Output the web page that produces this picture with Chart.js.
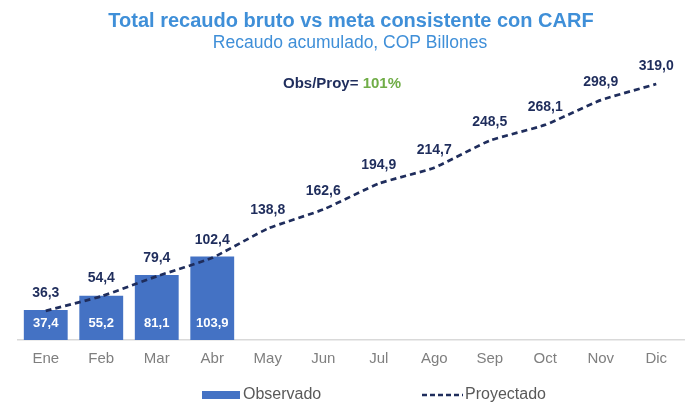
<!DOCTYPE html>
<html>
<head>
<meta charset="utf-8">
<script src="https://cdn.jsdelivr.net/npm/chart.js@4.4.0/dist/chart.umd.min.js"></script>
<style>
  html, body { margin: 0; padding: 0; background: #fff; }
  #wrap { width: 700px; height: 404px; }
</style>
</head>
<body>
<div id="wrap"><canvas id="myChart" width="700" height="404"></canvas></div>
<script>
var meses = ['Ene', 'Feb', 'Mar', 'Abr', 'May', 'Jun', 'Jul', 'Ago', 'Sep', 'Oct', 'Nov', 'Dic']
var observado = [37.4, 55.2, 81.1, 103.9, null, null, null, null, null, null, null, null]
var proyectado = [36.3, 54.4, 79.4, 102.4, 138.8, 162.6, 194.9, 214.7, 248.5, 268.1, 298.9, 319.0]
var ratioTxt = '101%'

var azulBarra = '#4472c4'
var navy = '#1f2d5c'
var azulTitulo = '#3f8fd8'
var fuente = '"Liberation Sans", Arial, sans-serif'

function fmt(v) {
    return v.toFixed(1).replace('.', ',')
}

// titulos, etiquetas y leyenda
var extras = {
    id: 'extras',
    afterDraw: function (chart) {
        var ctx = chart.ctx
        ctx.save()
        ctx.textAlign = 'center'
        ctx.textBaseline = 'middle'
        ctx.fillStyle = azulTitulo
        ctx.font = 'bold 20px ' + fuente
        ctx.fillText('Total recaudo bruto vs meta consistente con CARF', 351, 21)
        ctx.font = '17.5px ' + fuente
        ctx.fillText('Recaudo acumulado, COP Billones', 350, 43)

        // Obs/Proy
        ctx.font = 'bold 15px ' + fuente
        var a = 'Obs/Proy= '
        var wa = ctx.measureText(a).width
        var wb = ctx.measureText(ratioTxt).width
        var x0 = 342 - (wa + wb) / 2
        ctx.textAlign = 'left'
        ctx.fillStyle = navy
        ctx.fillText(a, x0, 84)
        ctx.fillStyle = '#70ad47'
        ctx.fillText(ratioTxt, x0 + wa, 84)

        // etiquetas barras
        ctx.textAlign = 'center'
        ctx.font = 'bold 13px ' + fuente
        var mBar = chart.getDatasetMeta(0)
        mBar.data.forEach(function (el, i) {
            if (observado[i] == null) return
            ctx.fillStyle = '#ffffff'
            ctx.fillText(fmt(observado[i]), el.x, el.base - 17)
        })
        var mLin = chart.getDatasetMeta(1)
        ctx.font = 'bold 14px ' + fuente
        ctx.fillStyle = navy
        mLin.data.forEach(function (el, i) {
            ctx.fillText(fmt(proyectado[i]), el.x, el.y - 18)
        })

        // leyenda
        var ly = 395
        ctx.fillStyle = azulBarra
        ctx.fillRect(202, ly - 4, 38, 8)
        ctx.font = '16px ' + fuente
        ctx.fillStyle = '#595959'
        ctx.textAlign = 'left'
        ctx.fillText('Observado', 243, ly)
        ctx.strokeStyle = navy
        ctx.lineWidth = 2.5
        ctx.setLineDash([5, 3])
        ctx.beginPath()
        ctx.moveTo(422, ly)
        ctx.lineTo(463, ly)
        ctx.stroke()
        ctx.setLineDash([])
        ctx.fillText('Proyectado', 465, ly)
        ctx.restore()
    }
}

var ctx = document.getElementById('myChart').getContext('2d')
var myChart = new Chart(ctx, {
    type: 'bar',
    data: {
        labels: meses,
        datasets: [{
                label: 'Observado',
                data: observado,
                backgroundColor: azulBarra,
                categoryPercentage: 0.79,
                barPercentage: 1.0,
                order: 2
            }, {
                type: 'line',
                label: 'Proyectado',
                data: proyectado,
                borderColor: navy,
                borderWidth: 2.7,
                borderDash: [6, 4],
                pointRadius: 0,
                tension: 0.15,
                fill: false,
                order: 1
            }]
    },
    options: {
        responsive: false,
        animation: false,
        layout: {
            padding: {top: 19, left: 18, right: 16, bottom: 26}
        },
        plugins: {
            legend: {display: false},
            tooltip: {enabled: false}
        },
        scales: {
            x: {
                grid: {display: false, drawTicks: false},
                border: {display: true, color: '#d9d9d9', width: 1.5},
                ticks: {color: '#7f7f7f', font: {family: fuente, size: 15}, padding: 10}
            },
            y: {
                display: false,
                min: 0,
                max: 400
            }
        }
    },
    plugins: [extras]
})
</script>
</body>
</html>
